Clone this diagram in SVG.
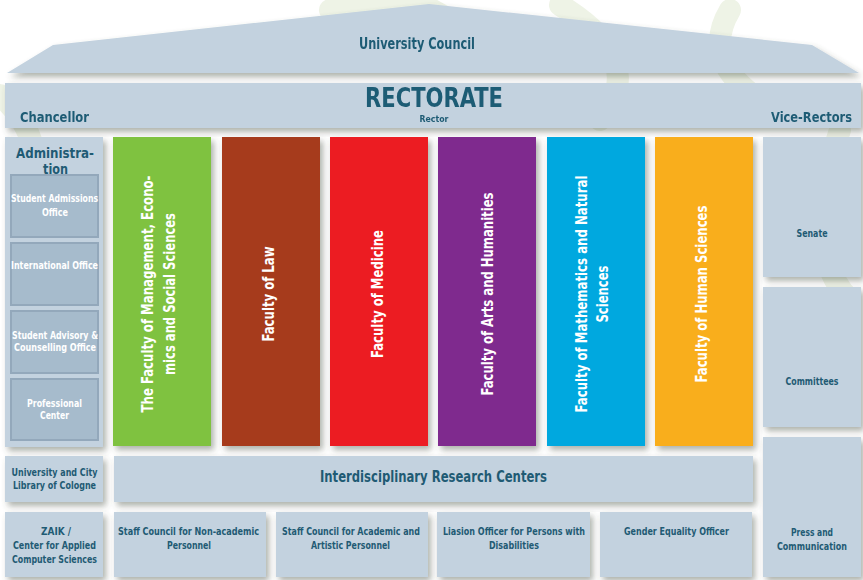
<svg xmlns="http://www.w3.org/2000/svg" width="863" height="580" viewBox="0 0 863 580">
<defs>
<filter id="sh" x="-10%" y="-10%" width="130%" height="130%">
<feDropShadow dx="3" dy="4" stdDeviation="3" flood-color="#4a5246" flood-opacity="0.45"/>
</filter>
<style>
.box{fill:#c3d2df}
.sub{fill:#a6bbcc;stroke:#93a8bb;stroke-width:2}
.t{font-family:"Liberation Sans Narrow","DejaVu Sans Condensed","Liberation Sans",sans-serif;font-weight:bold;fill:#1f5b74;text-anchor:middle;font-size:10px}
.w{fill:#ffffff}
.s13{font-size:13.5px}
.s14{font-size:14px}
.s15{font-size:15px}
.s26{font-size:26px}
.s9{font-size:9px}
.fac{font-family:"Liberation Sans Narrow","DejaVu Sans Condensed","Liberation Sans",sans-serif;font-weight:bold;fill:#ffffff;text-anchor:middle;font-size:15.5px}
.wm{fill:none;stroke:#eef3e6;stroke-width:22;stroke-linecap:round}
</style>
</defs>
<rect width="863" height="580" fill="#ffffff"/>
<g id="watermark">
<path class="wm" d="M0 95 Q60 150 20 230"/>
<path class="wm" d="M330 10 Q420 -20 470 40"/>
<path class="wm" d="M560 5 Q650 60 600 120"/>
<path class="wm" d="M730 10 Q700 60 760 100"/>
<path class="wm" d="M840 130 Q800 250 850 300"/>
</g>
<g id="university-council" filter="url(#sh)">
<polygon class="box" points="7,73 53,45 429,4 812,45 859,73"/>
<text class="t s15" x="417" y="49" textLength="116" lengthAdjust="spacingAndGlyphs">University Council</text>
</g>
<g id="rectorate" filter="url(#sh)">
<rect class="box" x="5" y="83" width="856" height="45"/>
<text class="t s26" x="434" y="107" textLength="138" lengthAdjust="spacingAndGlyphs">RECTORATE</text>
<text class="t s9" x="434" y="122" textLength="29" lengthAdjust="spacingAndGlyphs">Rector</text>
<text class="t s13" x="20" y="122" style="text-anchor:start" textLength="69" lengthAdjust="spacingAndGlyphs">Chancellor</text>
<text class="t s13" x="771" y="122" style="text-anchor:start" textLength="81" lengthAdjust="spacingAndGlyphs">Vice-Rectors</text>
</g>
<g id="administration">
<rect class="box" x="5" y="137" width="98" height="310" filter="url(#sh)"/>
<text class="t s14" x="55" y="158" textLength="78" lengthAdjust="spacingAndGlyphs">Administra-</text>
<text class="t s14" x="55.5" y="173.5" textLength="25" lengthAdjust="spacingAndGlyphs">tion</text>
</g>
<g id="student-admissions">
<rect class="sub" x="11" y="175" width="87" height="62"/>
<text class="t w" x="54.5" y="202" textLength="87" lengthAdjust="spacingAndGlyphs">Student Admissions</text>
<text class="t w" x="55" y="216" textLength="26" lengthAdjust="spacingAndGlyphs">Office</text>
</g>
<g id="international-office">
<rect class="sub" x="11" y="243" width="87" height="62"/>
<text class="t w" x="54.5" y="269" textLength="87" lengthAdjust="spacingAndGlyphs">International Office</text>
</g>
<g id="student-advisory">
<rect class="sub" x="11" y="311" width="87" height="62"/>
<text class="t w" x="55" y="339" textLength="86" lengthAdjust="spacingAndGlyphs">Student Advisory &amp;</text>
<text class="t w" x="55" y="351" textLength="82" lengthAdjust="spacingAndGlyphs">Counselling Office</text>
</g>
<g id="professional-center">
<rect class="sub" x="11" y="379" width="87" height="61"/>
<text class="t w" x="54.5" y="407" textLength="55" lengthAdjust="spacingAndGlyphs">Professional</text>
<text class="t w" x="54.5" y="419" textLength="29" lengthAdjust="spacingAndGlyphs">Center</text>
</g>
<g id="faculty-management">
<rect x="113" y="137" width="98" height="309" fill="#7fc241" filter="url(#sh)"/>
<text class="fac" transform="translate(153,294) rotate(-90)" textLength="237" lengthAdjust="spacingAndGlyphs">The Faculty of Management, Econo-</text>
<text class="fac" transform="translate(175,294) rotate(-90)" textLength="162" lengthAdjust="spacingAndGlyphs">mics and Social Sciences</text>
</g>
<g id="faculty-law">
<rect x="222" y="137" width="98" height="309" fill="#a63a1a" filter="url(#sh)"/>
<text class="fac" transform="translate(274,294) rotate(-90)" textLength="95" lengthAdjust="spacingAndGlyphs">Faculty of Law</text>
</g>
<g id="faculty-medicine">
<rect x="330" y="137" width="98" height="309" fill="#ec1c24" filter="url(#sh)"/>
<text class="fac" transform="translate(383,294) rotate(-90)" textLength="128" lengthAdjust="spacingAndGlyphs">Faculty of Medicine</text>
</g>
<g id="faculty-arts">
<rect x="438" y="137" width="98" height="309" fill="#7f2a8e" filter="url(#sh)"/>
<text class="fac" transform="translate(493,294) rotate(-90)" textLength="203" lengthAdjust="spacingAndGlyphs">Faculty of Arts and Humanities</text>
</g>
<g id="faculty-math">
<rect x="547" y="137" width="98" height="309" fill="#00a8df" filter="url(#sh)"/>
<text class="fac" transform="translate(587,294) rotate(-90)" textLength="237" lengthAdjust="spacingAndGlyphs">Faculty of Mathematics and Natural</text>
<text class="fac" transform="translate(608,294) rotate(-90)" textLength="57" lengthAdjust="spacingAndGlyphs">Sciences</text>
</g>
<g id="faculty-human">
<rect x="655" y="137" width="98" height="309" fill="#f9ae1c" filter="url(#sh)"/>
<text class="fac" transform="translate(707,294) rotate(-90)" textLength="177" lengthAdjust="spacingAndGlyphs">Faculty of Human Sciences</text>
</g>
<g id="senate">
<rect class="box" x="763" y="137" width="98" height="140" filter="url(#sh)"/>
<text class="t" x="812" y="237" textLength="31" lengthAdjust="spacingAndGlyphs">Senate</text>
</g>
<g id="committees">
<rect class="box" x="763" y="287" width="98" height="140" filter="url(#sh)"/>
<text class="t" x="812" y="385" textLength="53" lengthAdjust="spacingAndGlyphs">Committees</text>
</g>
<g id="press">
<rect class="box" x="763" y="437" width="98" height="140" filter="url(#sh)"/>
<text class="t" x="812" y="536" textLength="42" lengthAdjust="spacingAndGlyphs">Press and</text>
<text class="t" x="812" y="550" textLength="70" lengthAdjust="spacingAndGlyphs">Communication</text>
</g>
<g id="library">
<rect class="box" x="5" y="456" width="98" height="46" filter="url(#sh)"/>
<text class="t" x="54.5" y="476" textLength="86" lengthAdjust="spacingAndGlyphs">University and City</text>
<text class="t" x="54.5" y="489" textLength="83" lengthAdjust="spacingAndGlyphs">Library of Cologne</text>
</g>
<g id="research-centers">
<rect class="box" x="114" y="456" width="639" height="46" filter="url(#sh)"/>
<text class="t s15" x="433.5" y="482" textLength="227" lengthAdjust="spacingAndGlyphs">Interdisciplinary Research Centers</text>
</g>
<g id="zaik">
<rect class="box" x="5" y="512" width="98" height="65" filter="url(#sh)"/>
<text class="t" x="56" y="535" textLength="30" lengthAdjust="spacingAndGlyphs">ZAIK /</text>
<text class="t" x="54.5" y="549" textLength="83" lengthAdjust="spacingAndGlyphs">Center for Applied</text>
<text class="t" x="54.5" y="563" textLength="85" lengthAdjust="spacingAndGlyphs">Computer Sciences</text>
</g>
<g id="staff-non-academic">
<rect class="box" x="114" y="512" width="152" height="65" filter="url(#sh)"/>
<text class="t" x="188.5" y="535" textLength="141" lengthAdjust="spacingAndGlyphs">Staff Council for Non-academic</text>
<text class="t" x="189" y="549" textLength="44" lengthAdjust="spacingAndGlyphs">Personnel</text>
</g>
<g id="staff-academic">
<rect class="box" x="276" y="512" width="152" height="65" filter="url(#sh)"/>
<text class="t" x="351" y="535" textLength="138" lengthAdjust="spacingAndGlyphs">Staff Council for Academic and</text>
<text class="t" x="350.5" y="549" textLength="79" lengthAdjust="spacingAndGlyphs">Artistic Personnel</text>
</g>
<g id="liaison-officer">
<rect class="box" x="437" y="512" width="153" height="65" filter="url(#sh)"/>
<text class="t" x="514" y="535" textLength="142" lengthAdjust="spacingAndGlyphs">Liasion Officer for Persons with</text>
<text class="t" x="514" y="549" textLength="50" lengthAdjust="spacingAndGlyphs">Disabilities</text>
</g>
<g id="gender-equality">
<rect class="box" x="600" y="512" width="152" height="65" filter="url(#sh)"/>
<text class="t" x="676.5" y="535" textLength="105" lengthAdjust="spacingAndGlyphs">Gender Equality Officer</text>
</g>
<g id="connectors"></g>
</svg>
